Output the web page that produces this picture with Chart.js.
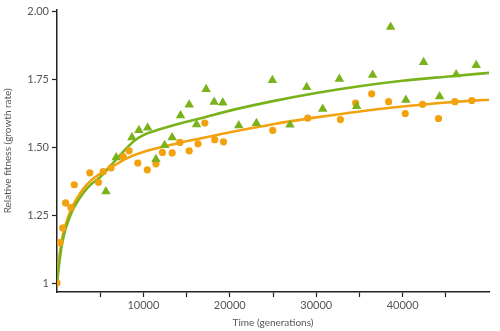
<!DOCTYPE html>
<html>
<head>
<meta charset="utf-8">
<script src="https://cdn.jsdelivr.net/npm/chart.js@4"></script>
<style>
  body { margin: 0; background: #fff; }
  canvas { display: block; }
</style>
</head>
<body>
<canvas id="fitness" width="500" height="331"></canvas>
<script>
// measured fitness, green population (triangles)
var greenGen = [5660, 6850, 8670, 9480, 10490, 11450, 12450, 13330, 14300, 15300, 16150, 17260, 18190, 19190,
  21040, 23080, 24930, 26970, 28900, 30750, 32680, 34680, 36530, 38610, 40380, 42430, 44280, 46200, 48520];
var greenFit = [1.337, 1.462, 1.536, 1.563, 1.572, 1.456, 1.507, 1.536, 1.617, 1.657, 1.584, 1.714, 1.667, 1.664,
  1.580, 1.588, 1.747, 1.583, 1.721, 1.641, 1.751, 1.651, 1.766, 1.943, 1.674, 1.813, 1.687, 1.768, 1.802];

// measured fitness, orange population (circles)
var orangeGen = [0, 350, 660, 1000, 1600, 2000, 3800, 4800, 5350, 6250, 7650, 8350, 9350, 10450, 11450, 12200,
  13330, 14220, 15300, 16320, 17110, 18250, 19270, 24970, 29020, 32800, 34570, 36420, 38380, 40310, 42310,
  44160, 46050, 48010];
var orangeFit = [1.00, 1.149, 1.203, 1.295, 1.278, 1.362, 1.406, 1.371, 1.41, 1.424, 1.466, 1.487, 1.442, 1.417,
  1.439, 1.481, 1.479, 1.518, 1.487, 1.513, 1.589, 1.528, 1.52, 1.562, 1.607, 1.602, 1.663, 1.697, 1.668,
  1.624, 1.658, 1.606, 1.668, 1.672];

// fitted trajectories sampled along the time axis
var curveGen = [0, 250, 500, 1000, 1500, 2000, 3000, 4000, 5000, 6000, 7000, 8000, 9000, 10000, 12000, 14000,
  17000, 20000, 25000, 30000, 35000, 40000, 45000, 50000];
var greenCurve = [1.00, 1.07, 1.13, 1.20, 1.245, 1.28, 1.33, 1.365, 1.39, 1.425, 1.46, 1.495, 1.525, 1.545,
  1.567, 1.586, 1.61, 1.635, 1.67, 1.70, 1.725, 1.745, 1.76, 1.774];
var orangeCurve = [1.00, 1.09, 1.15, 1.215, 1.262, 1.295, 1.345, 1.38, 1.402, 1.422, 1.44, 1.458, 1.472, 1.483,
  1.50, 1.515, 1.535, 1.555, 1.585, 1.61, 1.632, 1.65, 1.665, 1.675];

var yTicks = [1, 1.25, 1.5, 1.75, 2];
var xTicks = [5000, 10000, 15000, 20000, 25000, 30000, 35000, 40000, 45000];

var green = '#79b21a';
var orange = '#f2a20e';

function pairs(xs, ys) {
  return xs.map(function (x, i) { return { x: x, y: ys[i] }; });
}

var tickFont = { family: 'Lato', size: 11 };
var titleFont = { family: 'Lato', size: 10 };

new Chart(document.getElementById('fitness'), {
  type: 'scatter',
  data: {
    datasets: [
      {
        data: pairs(greenGen, greenFit),
        pointStyle: 'triangle',
        pointRadius: 5.5,
        pointBorderWidth: 0,
        backgroundColor: green,
        order: 1
      },
      {
        data: pairs(orangeGen, orangeFit),
        pointStyle: 'circle',
        pointRadius: 3.6,
        pointBorderWidth: 0,
        backgroundColor: orange,
        order: 1
      },
      {
        type: 'line',
        data: pairs(curveGen, greenCurve),
        borderColor: green,
        borderWidth: 2.6,
        pointRadius: 0,
        cubicInterpolationMode: 'monotone',
        order: 2
      },
      {
        type: 'line',
        data: pairs(curveGen, orangeCurve),
        borderColor: orange,
        borderWidth: 2.6,
        pointRadius: 0,
        cubicInterpolationMode: 'monotone',
        order: 2
      }
    ]
  },
  options: {
    responsive: false,
    animation: false,
    layout: { padding: { top: 7, right: 11, left: 0, bottom: 0 } },
    plugins: { legend: { display: false }, tooltip: { enabled: false } },
    scales: {
      x: {
        type: 'linear',
        min: 0,
        max: 50000,
        afterFit: function (s) { s.height = 39; },
        afterBuildTicks: function (s) { s.ticks = xTicks.map(function (v) { return { value: v }; }); },
        grid: { drawOnChartArea: false, tickLength: 5, tickColor: '#222', tickWidth: 1.2 },
        border: { color: '#222', width: 1.5 },
        ticks: {
          font: tickFont,
          color: '#555',
          padding: 2,
          maxRotation: 0,
          callback: function (v) { return v % 10000 === 0 ? String(v) : ''; }
        },
        title: { display: true, text: 'Time (generations)', font: titleFont, color: '#555', padding: { top: 0, bottom: 2 } }
      },
      y: {
        min: 0.967,
        max: 2.007,
        afterFit: function (s) { s.width = 57; },
        afterBuildTicks: function (s) { s.ticks = yTicks.map(function (v) { return { value: v }; }); },
        grid: { drawOnChartArea: false, tickLength: 5, tickColor: '#222', tickWidth: 1.2 },
        border: { color: '#222', width: 1.5 },
        ticks: {
          font: tickFont,
          color: '#555',
          padding: 3,
          callback: function (v) { return v === 1 ? '1' : v.toFixed(2); }
        },
        title: { display: true, text: 'Relative fitness (growth rate)', font: titleFont, color: '#555', padding: { top: 2, bottom: 0 } }
      }
    }
  }
});
</script>
</body>
</html>
